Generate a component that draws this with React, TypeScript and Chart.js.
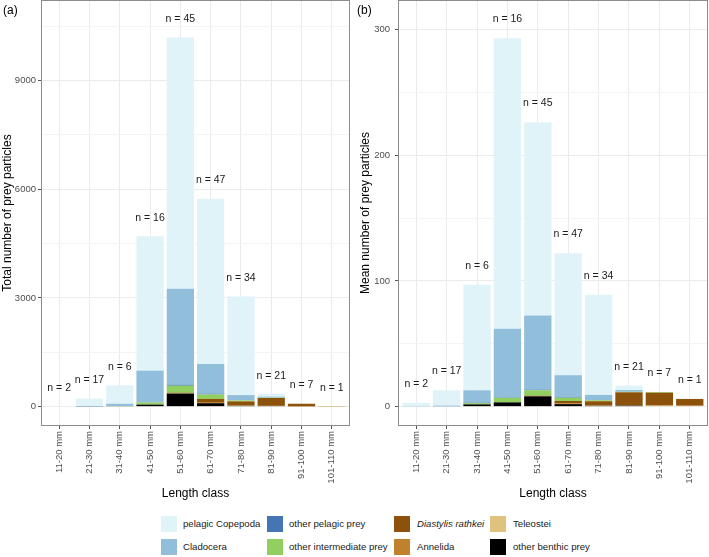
import { useEffect, useRef } from 'react';
import { Chart, registerables } from 'chart.js';

Chart.register(...registerables);

const FONT = '"Liberation Sans", Arial, Helvetica, sans-serif';

const lengthClasses = [
  '11-20 mm', '21-30 mm', '31-40 mm', '41-50 mm', '51-60 mm',
  '61-70 mm', '71-80 mm', '81-90 mm', '91-100 mm', '101-110 mm',
];
const sampleSizes = [2, 17, 6, 16, 45, 47, 34, 21, 7, 1];

// (a) total number of prey particles per length class
const totalPelagicCopepoda = [6, 208, 509, 3708, 6930, 4559, 2717, 74, 1, 0];
const totalCladocera = [0, 8, 59, 874, 2655, 818, 146, 29, 0, 0];
const totalOtherPelagic = [0, 5, 2, 6, 22, 24, 0, 0, 0, 0];
const totalOtherIntermediate = [0, 0, 6, 58, 194, 122, 27, 8, 4, 0];
const totalDiastylis = [0, 0, 0, 0, 9, 85, 116, 218, 72, 5];
const totalAnnelida = [0, 0, 0, 0, 14, 33, 10, 4, 0, 0];
const totalTeleostei = [0, 0, 0, 0, 0, 0, 0, 0, 6, 1];
const totalOtherBenthic = [0, 0, 12, 55, 360, 95, 20, 17, 0, 0];

// (b) mean number of prey particles per fish
const meanPelagicCopepoda = [2.8, 12.2, 84, 231, 153.5, 97, 79.6, 3.5, 0.1, 0];
const meanCladocera = [0.2, 0.5, 9.8, 54.6, 59, 17.4, 4.3, 1.4, 0, 0];
const meanOtherPelagic = [0, 0.3, 0.4, 0.4, 0.5, 0.5, 0, 0, 0, 0];
const meanOtherIntermediate = [0, 0, 1.0, 3.6, 4.3, 2.6, 0.8, 0.4, 0.5, 0];
const meanDiastylis = [0, 0, 0, 0, 0.2, 1.8, 3.4, 10.4, 10.3, 5.3];
const meanAnnelida = [0, 0, 0, 0, 0.3, 0.7, 0.3, 0.2, 0, 0.3];
const meanTeleostei = [0, 0, 0, 0, 0, 0, 0, 0, 0.8, 0.5];
const meanOtherBenthic = [0, 0, 1.8, 3.4, 8.2, 2.0, 0.6, 0.8, 0, 0];

// stacked bottom to top
const preyGroups = [
  { label: 'other benthic prey', color: '#000000', total: totalOtherBenthic, mean: meanOtherBenthic },
  { label: 'Teleostei', color: '#dfc27d', total: totalTeleostei, mean: meanTeleostei },
  { label: 'Annelida', color: '#bf812d', total: totalAnnelida, mean: meanAnnelida },
  { label: 'Diastylis rathkei', color: '#8c510a', total: totalDiastylis, mean: meanDiastylis },
  { label: 'other intermediate prey', color: '#91cf60', total: totalOtherIntermediate, mean: meanOtherIntermediate },
  { label: 'other pelagic prey', color: '#4575b4', total: totalOtherPelagic, mean: meanOtherPelagic },
  { label: 'Cladocera', color: '#91bfdb', total: totalCladocera, mean: meanCladocera },
  { label: 'pelagic Copepoda', color: '#e0f3f8', total: totalPelagicCopepoda, mean: meanPelagicCopepoda },
];

// legend, filled column by column
const legendColumns = [
  ['pelagic Copepoda', 'Cladocera'],
  ['other pelagic prey', 'other intermediate prey'],
  ['Diastylis rathkei', 'Annelida'],
  ['Teleostei', 'other benthic prey'],
];

type PanelSpec = {
  key: 'total' | 'mean';
  tag: string;
  yTitle: string;
  yMin: number;
  yMax: number;
  minorStep: number;
  majorStep: number;
  labelOffset: number;
  axisWidth: number;
  padRight: number;
  tickPad: number;
  titlePad: number;
};

const panelA: PanelSpec = {
  key: 'total', tag: '(a)', yTitle: 'Total number of prey particles',
  yMin: -534, yMax: 11218, minorStep: 1500, majorStep: 3000, labelOffset: 500,
  axisWidth: 41, padRight: 4, tickPad: 2, titlePad: 0,
};
const panelB: PanelSpec = {
  key: 'mean', tag: '(b)', yTitle: 'Mean number of prey particles',
  yMin: -15.4, yMax: 323.4, minorStep: 50, majorStep: 100, labelOffset: 15,
  axisWidth: 44, padRight: 1, tickPad: 5, titlePad: 4,
};

const CANVAS_H = 505;
const AREA_BOTTOM = 426;

function makeChart(canvas: HTMLCanvasElement, spec: PanelSpec) {
  const stackTotals = lengthClasses.map((_, i) =>
    preyGroups.reduce((s, g) => s + g[spec.key][i], 0)
  );

  const decor = {
    id: 'panelDecor',
    afterDatasetsDraw(chart: any) {
      const { ctx, chartArea, scales } = chart;
      ctx.save();
      ctx.font = `10.5px ${FONT}`;
      ctx.fillStyle = '#1a1a1a';
      ctx.textAlign = 'center';
      ctx.textBaseline = 'middle';
      stackTotals.forEach((t, i) => {
        ctx.fillText(
          `n = ${sampleSizes[i]}`,
          scales.x.getPixelForValue(i + 1),
          scales.y.getPixelForValue(t + spec.labelOffset)
        );
      });
      ctx.strokeStyle = '#8c8c8c';
      ctx.lineWidth = 1;
      ctx.strokeRect(
        Math.round(chartArea.left) + 0.5,
        Math.round(chartArea.top) + 0.5,
        Math.round(chartArea.width) - 1,
        Math.round(chartArea.height) - 1
      );
      ctx.font = `12px ${FONT}`;
      ctx.fillStyle = '#000000';
      ctx.textAlign = 'left';
      ctx.fillText(spec.tag, 3, 11);
      ctx.restore();
    },
  };

  const yTicks: number[] = [];
  for (let v = 0; v <= spec.yMax; v += spec.minorStep) yTicks.push(v);

  return new Chart(canvas, {
    type: 'bar',
    data: {
      datasets: preyGroups.map((g) => ({
        label: g.label,
        data: g[spec.key].map((v, i) => ({ x: i + 1, y: v })),
        backgroundColor: g.color,
        borderWidth: 0,
        barPercentage: 0.9,
        categoryPercentage: 1,
      })),
    },
    options: {
      animation: false,
      responsive: false,
      maintainAspectRatio: false,
      layout: { padding: { top: 0, right: spec.padRight, left: 0, bottom: 0 } },
      plugins: { legend: { display: false }, tooltip: { enabled: false } },
      scales: {
        x: {
          type: 'linear',
          stacked: true,
          offset: false,
          min: 0.4,
          max: 10.6,
          afterBuildTicks: (ax: any) => {
            ax.ticks = lengthClasses.map((_, i) => ({ value: i + 1 }));
          },
          afterFit: (ax: any) => {
            ax.height = CANVAS_H - AREA_BOTTOM;
            ax.paddingLeft = 0;
            ax.paddingRight = 0;
          },
          ticks: {
            autoSkip: false,
            minRotation: 90,
            maxRotation: 90,
            padding: 2,
            color: '#4d4d4d',
            font: { family: FONT, size: 9.5 },
            callback: (_v: any, i: number) => lengthClasses[i],
          },
          grid: {
            offset: false,
            color: '#ebebeb',
            lineWidth: 1,
            tickLength: 3,
            tickColor: '#555555',
          },
          border: { display: false },
          title: {
            display: true,
            text: 'Length class',
            color: '#000000',
            font: { family: FONT, size: 12 },
            padding: { top: 2, bottom: 4 },
          },
        },
        y: {
          type: 'linear',
          stacked: true,
          min: spec.yMin,
          max: spec.yMax,
          afterBuildTicks: (ax: any) => {
            ax.ticks = yTicks.map((v) => ({ value: v }));
          },
          afterFit: (ax: any) => {
            ax.width = spec.axisWidth;
            ax.paddingTop = 0;
            ax.paddingBottom = 0;
          },
          ticks: {
            autoSkip: false,
            padding: spec.tickPad,
            color: '#4d4d4d',
            font: { family: FONT, size: 9.5 },
            callback: (v: any) => (Number(v) % spec.majorStep === 0 ? String(v) : ''),
          },
          grid: {
            color: (c: any) => (c.tick && c.tick.value % spec.majorStep === 0 ? '#ebebeb' : '#f4f4f4'),
            lineWidth: 1,
            tickLength: 3,
            tickColor: (c: any) =>
              c.tick && c.tick.value % spec.majorStep === 0 ? '#555555' : 'rgba(0,0,0,0)',
          },
          border: { display: false },
          title: {
            display: true,
            text: spec.yTitle,
            color: '#000000',
            font: { family: FONT, size: 12 },
            padding: { top: spec.titlePad, bottom: 0 },
          },
        },
      },
    },
    plugins: [decor],
  } as any);
}

const legendColor = (label: string) =>
  preyGroups.find((g) => g.label === label)?.color ?? '#000';

const colSwatchX = [161, 267, 394, 490];
const colTextX = [183, 289, 417, 513];
const rowSwatchY = [516, 539];

export default function App() {
  const leftRef = useRef<HTMLCanvasElement>(null);
  const rightRef = useRef<HTMLCanvasElement>(null);

  useEffect(() => {
    const a = makeChart(leftRef.current!, panelA);
    const b = makeChart(rightRef.current!, panelB);
    return () => {
      a.destroy();
      b.destroy();
    };
  }, []);

  return (
    <div
      style={{
        position: 'absolute',
        left: 0,
        top: 0,
        width: 709,
        height: 557,
        background: '#ffffff',
        fontFamily: FONT,
      }}
    >
      <canvas
        ref={leftRef}
        width={354}
        height={CANVAS_H}
        style={{ position: 'absolute', left: 0, top: 0, width: 354, height: CANVAS_H }}
      />
      <canvas
        ref={rightRef}
        width={355}
        height={CANVAS_H}
        style={{ position: 'absolute', left: 354, top: 0, width: 355, height: CANVAS_H }}
      />
      {legendColumns.map((col, ci) =>
        col.map((label, ri) => (
          <div key={label}>
            <div
              style={{
                position: 'absolute',
                left: colSwatchX[ci],
                top: rowSwatchY[ri],
                width: 16,
                height: 16,
                background: legendColor(label),
              }}
            />
            <div
              style={{
                position: 'absolute',
                left: colTextX[ci],
                top: rowSwatchY[ri],
                height: 16,
                lineHeight: '16px',
                fontSize: 9.6,
                color: '#1a1a1a',
                whiteSpace: 'nowrap',
                fontStyle: label === 'Diastylis rathkei' ? 'italic' : 'normal',
              }}
            >
              {label}
            </div>
          </div>
        ))
      )}
    </div>
  );
}
